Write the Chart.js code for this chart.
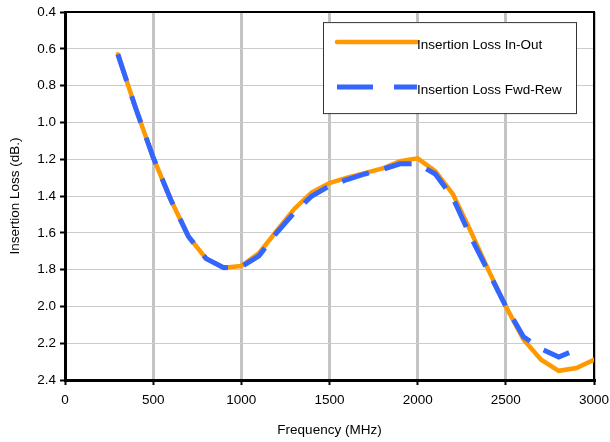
<!DOCTYPE html>
<html>
<head>
<meta charset="utf-8">
<script src="https://cdn.jsdelivr.net/npm/chart.js@4/dist/chart.umd.min.js"></script>
<style>
  body { margin: 0; background: #fff; }
  #wrap { width: 610px; height: 442px; position: relative; }
</style>
</head>
<body>
<div id="wrap"><canvas id="grafica"></canvas></div>
<script>
// Frecuencias (MHz) y perdidas de insercion (dB)
const freqInOut = [300, 400, 500, 600, 700, 800, 900, 1000, 1100, 1200, 1300, 1400, 1500, 1600,
                   1700, 1800, 1900, 2000, 2100, 2200, 2300, 2400, 2500, 2600, 2700, 2800, 2900, 3000];
const lossInOut = [0.63, 0.92, 1.19, 1.42, 1.62, 1.74, 1.79, 1.78, 1.71, 1.59, 1.47, 1.38, 1.33, 1.30,
                   1.275, 1.25, 1.21, 1.195, 1.265, 1.39, 1.59, 1.80, 2.00, 2.18, 2.29, 2.35, 2.335, 2.29];

const freqFwdRew = [300, 400, 500, 600, 700, 800, 900, 1000, 1100, 1200, 1300, 1400, 1500, 1600,
                    1700, 1800, 1900, 2000, 2100, 2200, 2300, 2400, 2500, 2600, 2700, 2800, 2900];
const lossFwdRew = [0.63, 0.92, 1.19, 1.42, 1.62, 1.74, 1.79, 1.785, 1.725, 1.60, 1.49, 1.40, 1.345, 1.31,
                    1.28, 1.255, 1.225, 1.225, 1.28, 1.41, 1.62, 1.81, 2.00, 2.165, 2.23, 2.275, 2.235];

const nombres = ['Insertion Loss In-Out', 'Insertion Loss Fwd-Rew'];
const tituloX = 'Frequency (MHz)';
const tituloY = 'Insertion Loss (dB.)';

const fuente = "'Liberation Sans', Arial, sans-serif";
const tam = 13.5;

function puntos(xs, ys) {
    return xs.map((x, i) => ({ x: x, y: ys[i] }));
}

// marco superior y derecho del area de trazado
const marco = {
    id: 'marco',
    beforeDatasetsDraw(chart) {
        const a = chart.chartArea;
        const ctx = chart.ctx;
        ctx.save();
        ctx.strokeStyle = '#000';
        ctx.lineWidth = 2;
        ctx.beginPath();
        ctx.moveTo(a.left, a.top);
        ctx.lineTo(a.right, a.top);
        ctx.lineTo(a.right, a.bottom);
        ctx.stroke();
        ctx.restore();
    }
};

// leyenda dentro del area, como en la original
const leyenda = {
    id: 'leyenda',
    afterDraw(chart) {
        const a = chart.chartArea;
        const ctx = chart.ctx;
        const x0 = a.right - 271, y0 = a.top + 10;
        ctx.save();
        ctx.fillStyle = '#fff';
        ctx.fillRect(x0, y0, 253, 91);
        ctx.strokeStyle = '#333';
        ctx.lineWidth = 1;
        ctx.strokeRect(x0 + 0.5, y0 + 0.5, 253, 91);
        ctx.font = tam + 'px ' + fuente;
        ctx.textBaseline = 'middle';
        chart.data.datasets.forEach((ds, i) => {
            const yl = y0 + 20 + i * 45;
            ctx.strokeStyle = ds.borderColor;
            ctx.lineWidth = ds.borderWidth;
            ctx.lineCap = i === 0 ? 'round' : 'butt';
            ctx.setLineDash(i === 0 ? [] : [36, 21]);
            ctx.beginPath();
            ctx.moveTo(x0 + 14, yl);
            ctx.lineTo(x0 + 94, yl);
            ctx.stroke();
            ctx.setLineDash([]);
            ctx.fillStyle = '#000';
            ctx.fillText(ds.label, x0 + 94, yl + 3);
        });
        ctx.restore();
    }
};

new Chart(document.getElementById('grafica').getContext('2d'), {
    type: 'line',
    data: {
        datasets: [{
            label: nombres[0],
            data: puntos(freqInOut, lossInOut),
            borderColor: '#ff9900',
            borderWidth: 4.5,
            borderCapStyle: 'round',
            pointRadius: 0,
            tension: 0,
            fill: false,
            order: 2
        }, {
            label: nombres[1],
            data: puntos(freqFwdRew, lossFwdRew),
            borderColor: '#3366ff',
            borderWidth: 5,
            borderDash: [28, 16],
            pointRadius: 0,
            tension: 0,
            fill: false,
            order: 1
        }]
    },
    options: {
        responsive: true,
        maintainAspectRatio: false,
        animation: false,
        devicePixelRatio: 1,
        layout: { padding: { top: 10, right: 0, left: 0, bottom: 0 } },
        scales: {
            x: {
                type: 'linear',
                min: 0,
                max: 3000,
                afterFit: s => { s.height = 62; s.paddingRight = 16; s.paddingLeft = 0; },
                ticks: {
                    stepSize: 500,
                    color: '#000',
                    padding: 7,
                    font: { family: fuente, size: tam },
                    maxRotation: 0,
                    callback: v => String(v)
                },
                grid: {
                    color: '#c4c4c4',
                    lineWidth: 3,
                    tickColor: '#000',
                    tickLength: 5,
                    tickWidth: 2
                },
                border: { display: true, color: '#000', width: 3 },
                title: {
                    display: true,
                    text: tituloX,
                    color: '#000',
                    font: { family: fuente, size: tam },
                    padding: { top: 0, bottom: 4 }
                }
            },
            y: {
                reverse: true,
                min: 0.4,
                max: 2.4,
                afterFit: s => { s.width = 65; },
                ticks: {
                    stepSize: 0.2,
                    color: '#000',
                    padding: 4,
                    font: { family: fuente, size: tam },
                    callback: v => v.toFixed(1)
                },
                grid: {
                    color: '#cccccc',
                    lineWidth: 1,
                    tickColor: '#000',
                    tickLength: 5,
                    tickWidth: 2
                },
                border: { display: true, color: '#000', width: 3 },
                title: {
                    display: true,
                    text: tituloY,
                    color: '#000',
                    font: { family: fuente, size: tam },
                    padding: { top: 7, bottom: 0 }
                }
            }
        },
        plugins: {
            legend: { display: false },
            tooltip: { enabled: false }
        }
    },
    plugins: [marco, leyenda]
});
</script>
</body>
</html>
